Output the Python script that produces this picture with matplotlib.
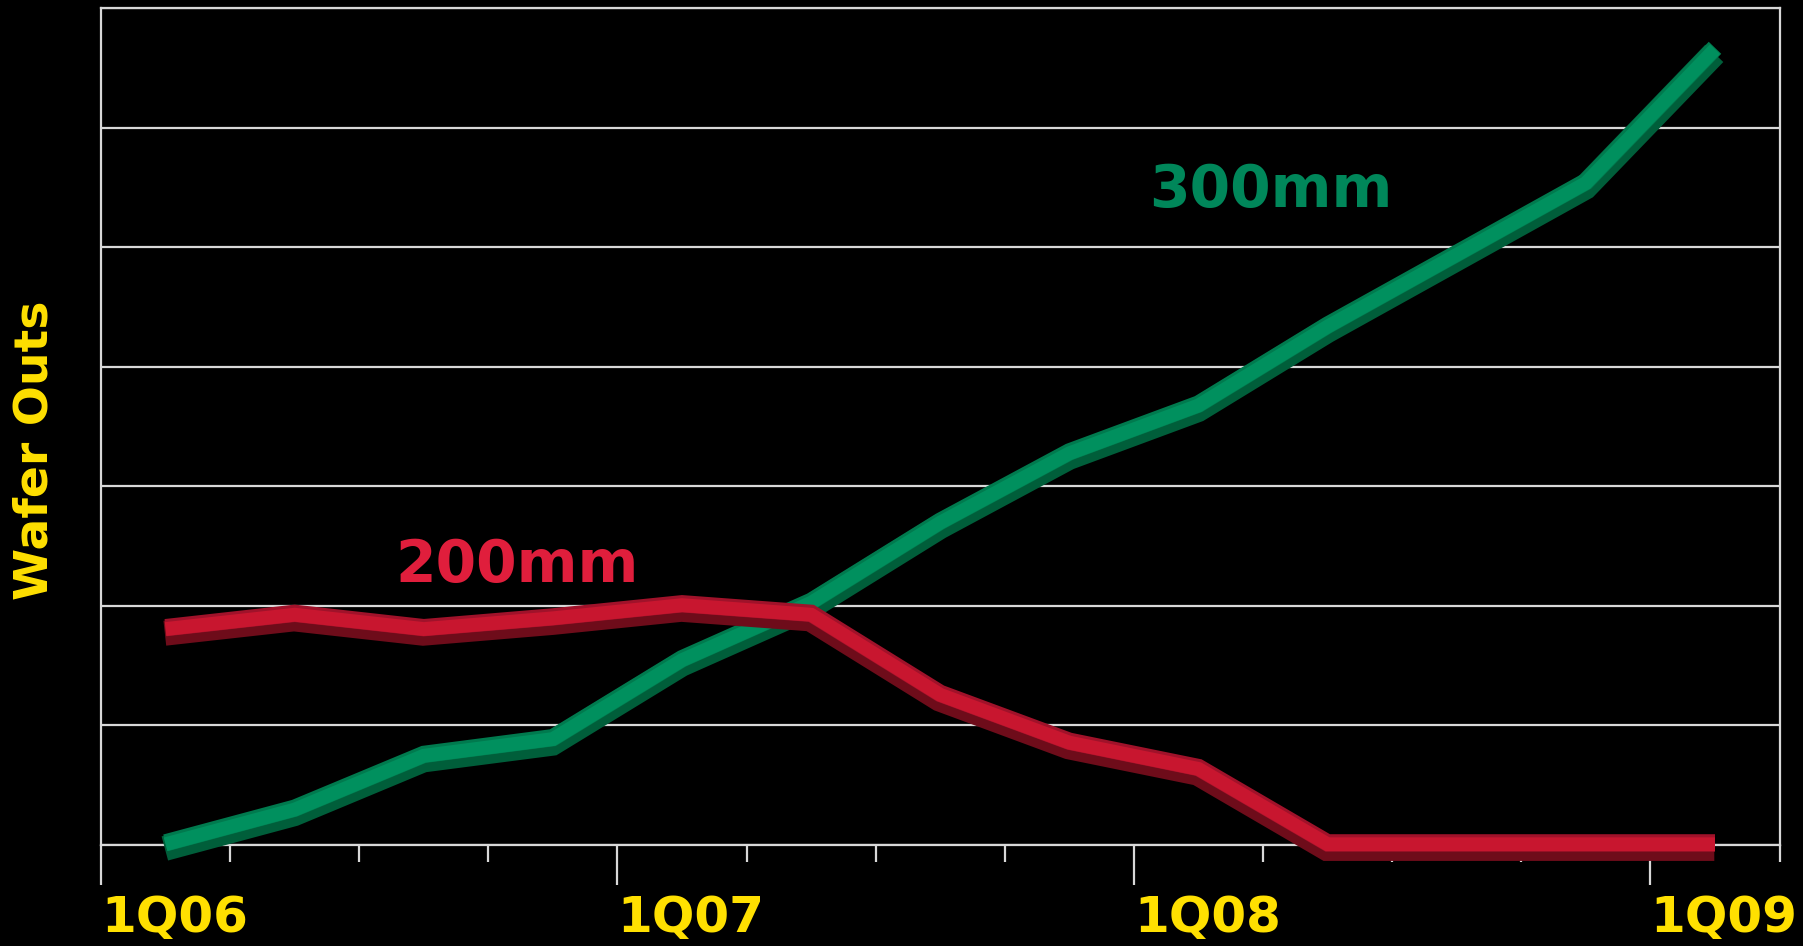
import numpy as np
import matplotlib.pyplot as plt
from matplotlib import patheffects

# quarters 1Q06 .. 1Q09
quarters = ["1Q06", "2Q06", "3Q06", "4Q06", "1Q07", "2Q07", "3Q07",
            "4Q07", "1Q08", "2Q08", "3Q08", "4Q08", "1Q09"]
wafer_300 = [0.0, 0.29, 0.74, 0.88, 1.54, 2.02, 2.69, 3.27, 3.67, 4.33, 4.93, 5.53, 6.65]
wafer_200 = [1.80, 1.92, 1.80, 1.89, 2.00, 1.92, 1.25, 0.85, 0.63, 0.0, 0.0, 0.0, 0.0]
shown_labels = ["1Q06", "1Q07", "1Q08", "1Q09"]

yellow = "#FFE000"
green, green_dark, green_top = "#00905E", "#005E3A", "#007A4E"
red, red_dark, red_top = "#C8162F", "#6E0C1A", "#A0122A"

fig = plt.figure(figsize=(18.03, 9.46), dpi=100, facecolor="black")
ax = fig.add_axes([0.056, 0.1068, 0.931, 0.8847], facecolor="black")

x = np.arange(len(quarters))


def ribbon(color, dark, top):
    # fake 3D ribbon: dark side below, bright face, thin top edge
    return [
        patheffects.Stroke(linewidth=18, foreground=dark, offset=(-0.5, -2.5)),
        patheffects.Stroke(linewidth=12.5, foreground=top, offset=(0, 1.5)),
        patheffects.Stroke(linewidth=10, foreground=color, offset=(0, 0.5)),
    ]


ax.plot(x, wafer_300, color=green, lw=10, clip_on=False, zorder=3,
        solid_capstyle="butt", solid_joinstyle="miter",
        path_effects=ribbon(green, green_dark, green_top))
ax.plot(x, wafer_200, color=red, lw=10, clip_on=False, zorder=4,
        solid_capstyle="butt", solid_joinstyle="miter",
        path_effects=ribbon(red, red_dark, red_top))

ax.text(8.56, 5.47, "300mm", color="#00875A", fontsize=42, fontweight="bold",
        ha="center", va="center", zorder=5)
ax.text(2.72, 2.34, "200mm", color="#E01E3C", fontsize=42, fontweight="bold",
        ha="center", va="center", zorder=5)

ax.set_xlim(-0.5, len(quarters) - 0.5)
ax.set_ylim(0, 7)

# gridlines
ax.set_yticks(np.arange(0, 8))
ax.yaxis.grid(True, color="#D8D8D8", lw=1.6)
ax.tick_params(axis="y", left=False, labelleft=False)
ax.set_axisbelow(True)

# long ticks with labels every year, short ticks every quarter
major_pos = [quarters.index(q) - 0.5 for q in shown_labels]
ax.set_xticks(major_pos)
ax.set_xticklabels(shown_labels, ha="left")
ax.set_xticks(np.arange(-0.5, len(quarters)), minor=True)
ax.tick_params(axis="x", which="major", length=29, width=1.6, color="#D8D8D8",
               pad=6, labelsize=36, labelcolor=yellow)
ax.tick_params(axis="x", which="minor", length=12, width=1.6, color="#D8D8D8")
for lab in ax.get_xticklabels():
    lab.set_fontweight("bold")

for s in ax.spines.values():
    s.set_color("#D8D8D8")
    s.set_linewidth(1.6)

fig.text(35 / 1803, 1 - 450 / 946, "Wafer Outs", color=yellow, fontsize=34,
         fontweight="bold", rotation=90, ha="center", va="center")

fig.savefig("out.png", dpi=100, facecolor="black")
